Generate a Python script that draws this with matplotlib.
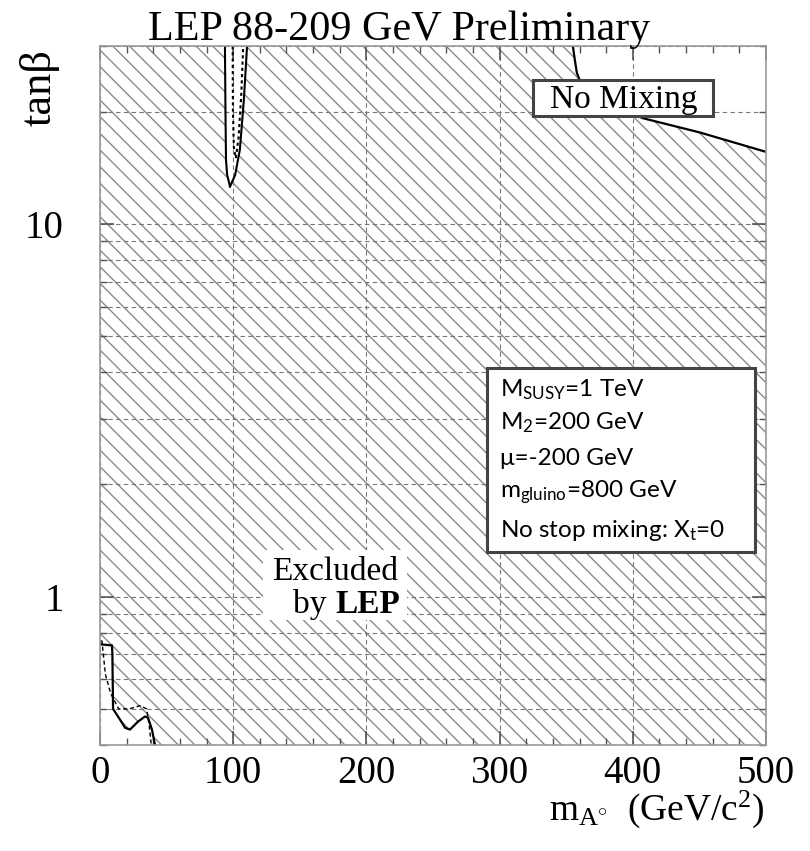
import matplotlib
matplotlib.use("Agg")
import matplotlib.pyplot as plt
from matplotlib.patches import Rectangle
from matplotlib.ticker import FixedLocator, FixedFormatter, MultipleLocator, NullFormatter

plt.rcParams['font.family'] = ['Liberation Serif', 'DejaVu Serif']
plt.rcParams['mathtext.fontset'] = 'custom'
plt.rcParams['mathtext.rm'] = 'Liberation Serif'
plt.rcParams['mathtext.it'] = 'Liberation Serif:italic'
plt.rcParams['mathtext.sf'] = 'Lato'
plt.rcParams['hatch.linewidth'] = 1.0

# Allowed (non-excluded) regions, boundaries in (mA [GeV], tan beta)
strip_left_x = [93.8, 94.2, 94.6, 95.5, 97.6]
strip_left_y = [30.0, 20.0, 14.8, 13.5, 12.6]
strip_right_x = [110.4, 108.0, 105.0, 101.4, 97.6]
strip_right_y = [30.0, 21.5, 15.8, 13.5, 12.6]
strip_exp_x = [99.6, 99.8, 100.5, 102.0, 104.0, 106.0, 107.5]
strip_exp_y = [30.0, 20.0, 16.0, 15.0, 17.0, 22.0, 30.0]

corner_x = [355.0, 356.5, 358.0, 365.0, 407.7, 450.0, 500.0]
corner_y = [30.0, 27.5, 25.4, 22.0, 19.2, 17.6, 15.6]

low_x = [0.0, 9.0, 9.3, 9.8, 15.0, 18.8, 22.5, 28.5, 33.8, 36.0, 39.0, 41.3]
low_y = [0.745, 0.74, 0.70, 0.50, 0.468, 0.445, 0.44, 0.462, 0.477, 0.474, 0.44, 0.40]
low_exp_x = [0.5, 1.5, 2.5, 4.0, 8.0, 14.0, 22.0, 30.0, 35.0, 37.0, 38.5]
low_exp_y = [0.76, 0.76, 0.70, 0.62, 0.55, 0.50, 0.50, 0.51, 0.50, 0.45, 0.40]

x_range = (0, 500)
y_range = (0.4, 30)
x_major = [0, 100, 200, 300, 400, 500]
y_major = [1, 10]
y_major_labels = ['1', '10']
y_minor = [0.4, 0.5, 0.6, 0.7, 0.8, 0.9, 2, 3, 4, 5, 6, 7, 8, 9, 20, 30]

title = 'LEP 88-209 GeV Preliminary'
params = [r'M$_{\mathsf{SUSY}}$=1 TeV',
          r'M$_{\mathsf{2}}$=200 GeV',
          '\u03bc=-200 GeV',
          r'm$_{\mathsf{gluino}}$=800 GeV',
          r'No stop mixing: X$_{\mathsf{t}}$=0']

fig = plt.figure(figsize=(8.10, 8.51), dpi=100)
ax = fig.add_axes([100/810, 1-745/851, 666/810, 699/851])
ax.set_yscale('log')
ax.set_xlim(*x_range)
ax.set_ylim(*y_range)

# hatched excluded area over the whole plane
ax.add_patch(Rectangle((0, 0), 1, 1, transform=ax.transAxes, facecolor='white',
                       edgecolor='#8a8a8a', hatch='\\\\', lw=0, zorder=0.5))

# allowed regions cut out in white
ax.fill(strip_left_x + strip_right_x[::-1], strip_left_y + strip_right_y[::-1],
        color='white', lw=0, zorder=1)
ax.fill(corner_x + [500], corner_y + [30], color='white', lw=0, zorder=1)
ax.fill(low_x + [0], low_y + [0.4], color='white', lw=0, zorder=1)

ax.set_axisbelow(False)
ax.grid(True, which='both', axis='y', color='#777777', lw=0.8, linestyle=(0, (4, 3)))
ax.grid(True, which='major', axis='x', color='#777777', lw=0.8, linestyle=(0, (4, 3)))

# observed and expected limits
ax.plot(strip_left_x, strip_left_y, color='black', lw=1.5, zorder=4)
ax.plot(strip_right_x, strip_right_y, color='black', lw=1.5, zorder=4)
ax.plot(strip_exp_x, strip_exp_y, color='black', lw=1.5, ls=(0, (1.5, 1.5)), zorder=4)
ax.plot(corner_x, corner_y, color='black', lw=1.6, zorder=4)
ax.plot(low_x, low_y, color='black', lw=1.6, zorder=4)
ax.plot(low_exp_x, low_exp_y, color='black', lw=1.0, ls=(0, (3, 2)), zorder=4)

# ticks
ax.xaxis.set_major_locator(FixedLocator(x_major))
ax.xaxis.set_minor_locator(MultipleLocator(20))
ax.yaxis.set_major_locator(FixedLocator(y_major))
ax.yaxis.set_major_formatter(FixedFormatter(y_major_labels))
ax.yaxis.set_minor_locator(FixedLocator(y_minor))
ax.yaxis.set_minor_formatter(NullFormatter())
ax.tick_params(which='both', direction='in', top=True, right=True, color='#555555')
ax.tick_params(which='major', length=10, width=1.2, labelsize=28)
ax.tick_params(which='minor', length=5, width=1.0)
ax.tick_params(axis='x', which='major', pad=7)
ax.tick_params(axis='y', which='major', pad=26)
for s in ax.spines.values():
    s.set_color('#999999')
    s.set_linewidth(1.2)
    s.set_zorder(6)

# "No Mixing" label
ax.add_patch(Rectangle((0.650, 0.900), 0.270, 0.051, transform=ax.transAxes,
                       facecolor='white', edgecolor='#444444', lw=2.2, zorder=5))
ax.text(0.787, 0.911, 'No Mixing', transform=ax.transAxes, ha='center', va='baseline',
        fontsize=24, zorder=6)

# parameter box
ax.add_patch(Rectangle((0.581, 0.276), 0.402, 0.263, transform=ax.transAxes,
                       facecolor='white', edgecolor='#444444', lw=2.2, zorder=5))
for txt, yb in zip(params, [0.498, 0.451, 0.401, 0.354, 0.298]):
    ax.text(0.601, yb, txt, transform=ax.transAxes, ha='left', va='baseline',
            fontsize=17.5, family=['Lato', 'DejaVu Sans'], zorder=6)

# "Excluded by LEP"
ax.add_patch(Rectangle((0.245, 0.179), 0.216, 0.100, transform=ax.transAxes,
                       facecolor='white', edgecolor='none', zorder=5))
ax.text(0.353, 0.236, 'Excluded', transform=ax.transAxes, ha='center', va='baseline',
        fontsize=24, zorder=6)
ax.text(0.353, 0.189, 'by ', transform=ax.transAxes, ha='right', va='baseline',
        fontsize=24, zorder=6)
ax.text(0.353, 0.189, 'LEP', transform=ax.transAxes, ha='left', va='baseline',
        fontsize=24, fontweight='bold', zorder=6)

fig.text(148/810, 1-40/851, title, ha='left', va='baseline', fontsize=30.3)
fig.text(765/810, 1-820/851, r'm$_{\mathrm{A^{\circ}}}$  (GeV/c$^{2}$)', ha='right',
         va='baseline', fontsize=27)
fig.text(40/810, 1-88/851, 'tan\u03b2', rotation=90, ha='center', va='center', fontsize=32)

fig.savefig('out.png', dpi=100)
